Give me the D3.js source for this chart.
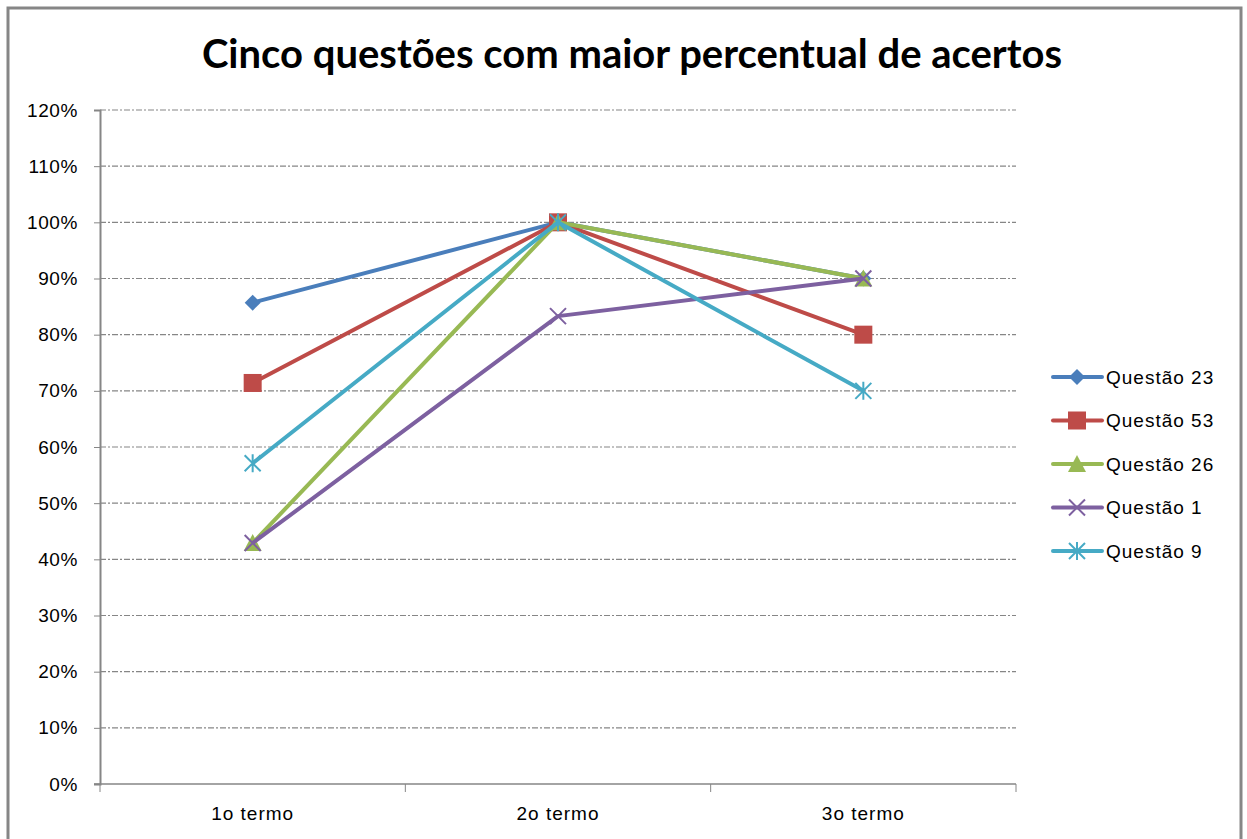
<!DOCTYPE html>
<html><head><meta charset="utf-8">
<script src="https://cdn.jsdelivr.net/npm/d3@7"></script>
<style>body{margin:0;background:#fff}svg{display:block}</style>
</head><body>
<svg id="c" width="1247" height="839"></svg>
<script>
const title = "Cinco questões com maior percentual de acertos";
const categories = ["1o termo", "2o termo", "3o termo"];
const seriesNames = ["Questão 23", "Questão 53", "Questão 26", "Questão 1", "Questão 9"];
const q23 = [0.857, 1.0, 0.9];
const q53 = [0.714, 1.0, 0.8];
const q26 = [0.429, 1.0, 0.9];
const q1  = [0.429, 0.833, 0.9];
const q9  = [0.571, 1.0, 0.7];
const yTicks = [0,0.1,0.2,0.3,0.4,0.5,0.6,0.7,0.8,0.9,1.0,1.1,1.2];
const colors = ["#4a7ebb", "#be4b48", "#98b954", "#7d60a0", "#46aac5"];
const markers = ["diamond", "square", "triangle", "x", "star"];
const seriesValues = [q23, q53, q26, q1, q9];

const svg = d3.select("#c");
svg.append("rect").attr("x",8).attr("y",8).attr("width",1233).attr("height",840)
  .attr("fill","#fff").attr("stroke","#868686").attr("stroke-width",3);

svg.append("text").attr("x",632).attr("y",68).attr("text-anchor","middle")
  .attr("font-family","Lato, 'Open Sans', sans-serif").attr("font-weight","bold")
  .attr("font-size",40).attr("fill","#000").text(title);

const L=100, R=1016, T=110, B=784;
const x = d3.scaleBand().domain(categories).range([L,R]);
const y = d3.scaleLinear().domain([0,1.2]).range([B,T]);

// gridlines
svg.append("g").selectAll("line").data(yTicks.filter(d=>d>0)).join("line")
  .attr("x1",L).attr("x2",R).attr("y1",d=>y(d)).attr("y2",d=>y(d))
  .attr("stroke","#868686").attr("stroke-width",1.2).attr("stroke-dasharray","6,2,2,2");

const fontAx = "'Liberation Sans', 'DejaVu Sans', sans-serif";
const ya = svg.append("g").attr("transform",`translate(${L},0)`)
  .call(d3.axisLeft(y).tickValues(yTicks).tickFormat(d3.format(".0%")).tickSize(6).tickPadding(16));
ya.select(".domain").attr("stroke","#868686").attr("stroke-width",2);
ya.selectAll(".tick line").attr("stroke","#868686");
ya.selectAll("text").attr("font-family",fontAx).attr("font-size",19).attr("letter-spacing",0.6).attr("fill","#000");

const xa = svg.append("g").attr("transform",`translate(0,${B})`)
  .call(d3.axisBottom(x).tickSize(0).tickPadding(23));
xa.select(".domain").remove();
xa.selectAll("text").attr("font-family",fontAx).attr("font-size",19).attr("letter-spacing",1).attr("fill","#000");
svg.append("line").attr("x1",L-6).attr("x2",R).attr("y1",B).attr("y2",B).attr("stroke","#868686").attr("stroke-width",1.5);
const bounds = [L, L+x.step(), L+2*x.step(), R];
svg.append("g").selectAll("line").data(bounds).join("line")
  .attr("x1",d=>d).attr("x2",d=>d).attr("y1",B).attr("y2",B+8).attr("stroke","#868686");

function drawMarker(g, type, cx, cy, color){
  if(type==="diamond"){
    g.append("path").attr("d",`M${cx},${cy-8}L${cx+8},${cy}L${cx},${cy+8}L${cx-8},${cy}Z`).attr("fill",color);
  } else if(type==="square"){
    g.append("rect").attr("x",cx-9).attr("y",cy-9).attr("width",18).attr("height",18).attr("fill",color);
  } else if(type==="triangle"){
    g.append("path").attr("d",`M${cx},${cy-9}L${cx+9},${cy+8}L${cx-9},${cy+8}Z`).attr("fill",color);
  } else if(type==="x"){
    g.append("path").attr("d",`M${cx-8},${cy-8}L${cx+8},${cy+8}M${cx+8},${cy-8}L${cx-8},${cy+8}`).attr("stroke",color).attr("stroke-width",2);
  } else if(type==="star"){
    g.append("path").attr("d",`M${cx-8},${cy-8}L${cx+8},${cy+8}M${cx+8},${cy-8}L${cx-8},${cy+8}M${cx},${cy-9}L${cx},${cy+9}`).attr("stroke",color).attr("stroke-width",2);
  }
}

const line = d3.line().x((d,i)=>x(categories[i])+x.bandwidth()/2).y(d=>y(d));
seriesValues.forEach((vals,si)=>{
  const g = svg.append("g");
  g.append("path").datum(vals).attr("d",line).attr("fill","none")
    .attr("stroke",colors[si]).attr("stroke-width",4).attr("stroke-linejoin","round");
  vals.forEach((v,i)=>drawMarker(g, markers[si], x(categories[i])+x.bandwidth()/2, y(v), colors[si]));
});

// legend
const lg = svg.append("g");
seriesNames.forEach((n,i)=>{
  const ly = 377 + i*43.5;
  lg.append("line").attr("x1",1053).attr("x2",1102).attr("y1",ly).attr("y2",ly)
    .attr("stroke",colors[i]).attr("stroke-width",4).attr("stroke-linecap","round");
  drawMarker(lg, markers[i], 1077, ly, colors[i]);
  lg.append("text").attr("x",1106).attr("y",ly).attr("dy","0.35em")
    .attr("font-family",fontAx).attr("font-size",19).attr("letter-spacing",1).attr("fill","#000").text(n);
});
</script>
</body></html>
